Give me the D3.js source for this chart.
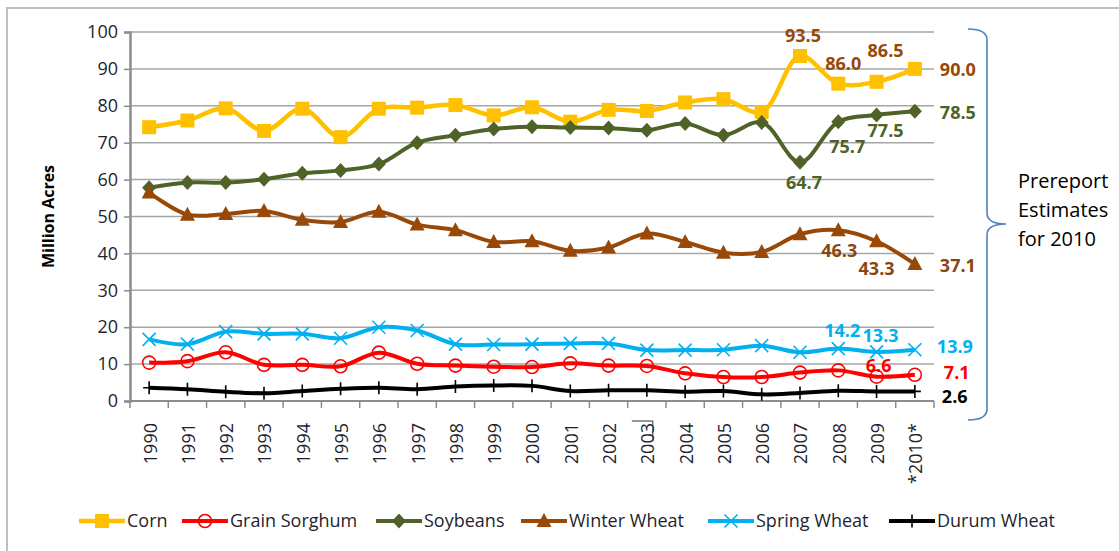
<!DOCTYPE html>
<html>
<head>
<meta charset="utf-8">
<script src="https://cdn.jsdelivr.net/npm/d3@7"></script>
<style>
  body { margin: 0; background: #fff; }
  text { font-family: "Open Sans", "Noto Sans", sans-serif; }
</style>
</head>
<body>
<div id="chart"></div>
<script>
// Planted acreage, million acres, 1990 - 2010 (2010 = prereport estimates)

const years = ["1990", "1991", "1992", "1993", "1994", "1995", "1996", "1997", "1998", "1999", "2000",
  "2001", "2002", "2003", "2004", "2005", "2006", "2007", "2008", "2009", "*2010*"];

const corn = [74.2, 76.0, 79.3, 73.2, 79.2, 71.5, 79.2, 79.5, 80.2, 77.4, 79.6,
  75.7, 78.9, 78.6, 80.9, 81.8, 78.3, 93.5, 86.0, 86.5, 90.0];
const grainSorghum = [10.4, 10.8, 13.2, 9.8, 9.8, 9.4, 13.1, 10.1, 9.6, 9.3, 9.2,
  10.2, 9.6, 9.5, 7.5, 6.5, 6.5, 7.7, 8.3, 6.6, 7.1];
const soybeans = [57.8, 59.2, 59.2, 60.1, 61.7, 62.5, 64.2, 70.0, 72.0, 73.7, 74.3,
  74.1, 74.0, 73.4, 75.2, 72.0, 75.5, 64.7, 75.7, 77.5, 78.5];
const winterWheat = [56.5, 50.5, 50.7, 51.5, 49.1, 48.5, 51.3, 47.8, 46.3, 43.1, 43.3,
  40.7, 41.6, 45.4, 43.1, 40.2, 40.4, 45.2, 46.3, 43.3, 37.1];
const springWheat = [16.7, 15.4, 18.8, 18.2, 18.2, 17.0, 20.0, 19.1, 15.4, 15.3, 15.4,
  15.6, 15.6, 13.8, 13.8, 13.9, 15.0, 13.2, 14.2, 13.3, 13.9];
const durumWheat = [3.6, 3.2, 2.5, 2.1, 2.7, 3.3, 3.6, 3.2, 3.9, 4.2, 4.1,
  2.7, 2.9, 2.9, 2.5, 2.7, 1.8, 2.2, 2.8, 2.6, 2.6];

const yTicks = [0, 10, 20, 30, 40, 50, 60, 70, 80, 90, 100];
const noteLines = ["Prereport", "Estimates", "for 2010"];

// series styling
const series = [
  { name: "Corn", values: corn, color: "#FFC000", label: "#984807", width: 4.5, marker: "square" },
  { name: "Grain Sorghum", values: grainSorghum, color: "#FF0000", label: "#FF0000", width: 4, marker: "circle" },
  { name: "Soybeans", values: soybeans, color: "#4F6228", label: "#4F6228", width: 4, marker: "diamond" },
  { name: "Winter Wheat", values: winterWheat, color: "#984807", label: "#8A4510", width: 4, marker: "triangle" },
  { name: "Spring Wheat", values: springWheat, color: "#00B0F0", label: "#00B0F0", width: 4, marker: "x" },
  { name: "Durum Wheat", values: durumWheat, color: "#000000", label: "#000000", width: 4, marker: "plus" }
];

// which points get a data label, and where it sits relative to the point
const labelSpots = [
  { s: 0, i: 17, dx: 3, dy: -14, anchor: "middle" },
  { s: 0, i: 18, dx: 5, dy: -14, anchor: "middle" },
  { s: 0, i: 19, dx: 9, dy: -25, anchor: "middle" },
  { s: 0, i: 20, dx: 25, dy: 7, anchor: "start" },
  { s: 2, i: 17, dx: 4, dy: 27, anchor: "middle" },
  { s: 2, i: 18, dx: 9, dy: 31, anchor: "middle" },
  { s: 2, i: 19, dx: 9, dy: 22, anchor: "middle" },
  { s: 2, i: 20, dx: 25, dy: 8, anchor: "start" },
  { s: 3, i: 18, dx: 1, dy: 27, anchor: "middle" },
  { s: 3, i: 19, dx: 0, dy: 34, anchor: "middle" },
  { s: 3, i: 20, dx: 25, dy: 8, anchor: "start" },
  { s: 4, i: 18, dx: 4, dy: -12, anchor: "middle" },
  { s: 4, i: 19, dx: 4, dy: -10, anchor: "middle" },
  { s: 4, i: 20, dx: 22, dy: 3, anchor: "start" },
  { s: 1, i: 19, dx: 2, dy: -5, anchor: "middle" },
  { s: 1, i: 20, dx: 29, dy: 4, anchor: "start" },
  { s: 5, i: 20, dx: 27, dy: 12, anchor: "start" }
];

const legendX = [79, 182, 376, 521, 708, 889];

let svgWidth = 1119;
let svgHeight = 551;

let plot = { left: 130, right: 934, top: 32, bottom: 401 };

var svg = d3.select("#chart")
  .append("svg")
  .attr("width", svgWidth)
  .attr("height", svgHeight);

// outer chart frame (runs off the picture on right/bottom)
svg.append("rect")
  .attr("x", 7).attr("y", 8)
  .attr("width", svgWidth).attr("height", svgHeight)
  .attr("fill", "none")
  .attr("stroke", "#BFBFBF")
  .attr("stroke-width", 2);

let x = d3.scaleBand()
  .domain(years)
  .range([plot.left, plot.right]);

let y = d3.scaleLinear()
  .domain([0, 100])
  .range([plot.bottom, plot.top]);

let cx = i => x(years[i]) + x.bandwidth() / 2;

// gridlines
svg.append("g")
  .selectAll("line")
  .data(yTicks.filter(d => d > 0))
  .enter()
  .append("line")
  .attr("x1", plot.left).attr("x2", plot.right)
  .attr("y1", d => y(d)).attr("y2", d => y(d))
  .attr("stroke", "#A6A6A6")
  .attr("stroke-width", 1.5);

// y axis
let yAxis = svg.append("g")
  .attr("transform", `translate(${plot.left},0)`)
  .call(d3.axisLeft(y).tickValues(yTicks).tickSize(6).tickPadding(6));
yAxis.select(".domain").attr("stroke", "#8C8C8C").attr("stroke-width", 2.5);
yAxis.selectAll(".tick line").attr("stroke", "#8C8C8C").attr("stroke-width", 1.5);
yAxis.selectAll(".tick text")
  .attr("font-size", 18)
  .attr("fill", "#1F1F2F")
  .attr("font-family", "Open Sans, sans-serif");

// x axis: line and boundary ticks
let xAxis = svg.append("g");
xAxis.append("line")
  .attr("x1", plot.left).attr("x2", plot.right)
  .attr("y1", plot.bottom).attr("y2", plot.bottom)
  .attr("stroke", "#8C8C8C").attr("stroke-width", 2);
xAxis.selectAll(".bnd")
  .data(d3.range(years.length + 1))
  .enter()
  .append("line")
  .attr("x1", i => plot.left + i * x.step())
  .attr("x2", i => plot.left + i * x.step())
  .attr("y1", plot.bottom).attr("y2", plot.bottom + 7)
  .attr("stroke", "#8C8C8C").attr("stroke-width", 1.5);
xAxis.selectAll(".yr")
  .data(years)
  .enter()
  .append("text")
  .attr("transform", d => `translate(${x(d) + x.bandwidth() / 2 + 1},${plot.bottom + 22}) rotate(-90)`)
  .attr("text-anchor", "end")
  .attr("dy", "0.36em")
  .attr("font-size", 18)
  .attr("fill", "#1F1F2F")
  .text(d => d);

// small stray mark next to 2003 in the original
svg.append("path")
  .attr("d", `M${cx(13) - 15},421 L${cx(13) + 6},421 M${cx(13) + 6},421 L${cx(13) + 6},441`)
  .attr("stroke", "#333").attr("stroke-width", 1).attr("fill", "none");

// y axis title
svg.append("text")
  .attr("transform", `translate(54,${(plot.top + plot.bottom) / 2}) rotate(-90)`)
  .attr("text-anchor", "middle")
  .attr("font-size", 16)
  .attr("font-weight", "bold")
  .attr("fill", "#000")
  .text("Million Acres");

// marker shapes
function drawMarker(g, type, color, px, py) {
  if (type === "square") {
    g.append("rect").attr("x", px - 7).attr("y", py - 7).attr("width", 14).attr("height", 14).attr("fill", color);
  } else if (type === "circle") {
    g.append("circle").attr("cx", px).attr("cy", py).attr("r", 6.5)
      .attr("fill", "none").attr("stroke", color).attr("stroke-width", 1.6);
  } else if (type === "diamond") {
    g.append("path").attr("d", `M${px},${py - 7.5} L${px + 7},${py} L${px},${py + 7.5} L${px - 7},${py} Z`).attr("fill", color);
  } else if (type === "triangle") {
    g.append("path").attr("d", `M${px},${py - 8} L${px + 7.5},${py + 6} L${px - 7.5},${py + 6} Z`).attr("fill", color);
  } else if (type === "x") {
    g.append("path").attr("d", `M${px - 6.5},${py - 6.5} L${px + 6.5},${py + 6.5} M${px - 6.5},${py + 6.5} L${px + 6.5},${py - 6.5}`)
      .attr("stroke", color).attr("stroke-width", 1.6);
  } else if (type === "plus") {
    g.append("path").attr("d", `M${px},${py - 6.5} L${px},${py + 6.5} M${px - 6},${py} L${px + 6},${py}`)
      .attr("stroke", color).attr("stroke-width", 1.6);
  }
}

let line = d3.line()
  .x((d, i) => cx(i))
  .y(d => y(d))
  .curve(d3.curveCatmullRom.alpha(0.5));

series.forEach(function(s) {
  let g = svg.append("g");
  g.append("path")
    .datum(s.values)
    .attr("d", line)
    .attr("fill", "none")
    .attr("stroke", s.color)
    .attr("stroke-width", s.width)
    .attr("stroke-linejoin", "round");
  s.values.forEach((v, i) => drawMarker(g, s.marker, s.color, cx(i), y(v)));
});

// data labels
svg.append("g")
  .selectAll("text")
  .data(labelSpots)
  .enter()
  .append("text")
  .attr("x", d => cx(d.i) + d.dx)
  .attr("y", d => y(series[d.s].values[d.i]) + d.dy)
  .attr("text-anchor", d => d.anchor)
  .attr("font-size", 18)
  .attr("font-weight", "bold")
  .attr("fill", d => series[d.s].label)
  .text(d => series[d.s].values[d.i].toFixed(1));

// brace marking the 2010 estimates
svg.append("path")
  .attr("d", "M968,29 Q987,29 987,40 L987,213 Q987,224 1006,224 Q987,224 987,235 L987,409 Q987,420 968,420")
  .attr("fill", "none")
  .attr("stroke", "#4F81BD")
  .attr("stroke-width", 1.6);

svg.append("g")
  .selectAll("text")
  .data(noteLines)
  .enter()
  .append("text")
  .attr("x", 1018)
  .attr("y", (d, i) => 188 + i * 29)
  .attr("font-size", 20)
  .attr("fill", "#000")
  .text(d => d);

// legend
let legend = svg.append("g")
  .selectAll("g")
  .data(series)
  .enter()
  .append("g")
  .attr("transform", (d, i) => `translate(${legendX[i]},521)`);

legend.append("line")
  .attr("x1", 0).attr("x2", 46)
  .attr("y1", 0).attr("y2", 0)
  .attr("stroke", d => d.color)
  .attr("stroke-width", d => d.width);

legend.each(function(d) {
  drawMarker(d3.select(this), d.marker, d.color, 23, 0);
});

legend.append("text")
  .attr("x", 48)
  .attr("dy", "0.35em")
  .attr("font-size", 18)
  .attr("fill", "#1F1F2F")
  .text(d => d.name);
</script>
</body>
</html>
